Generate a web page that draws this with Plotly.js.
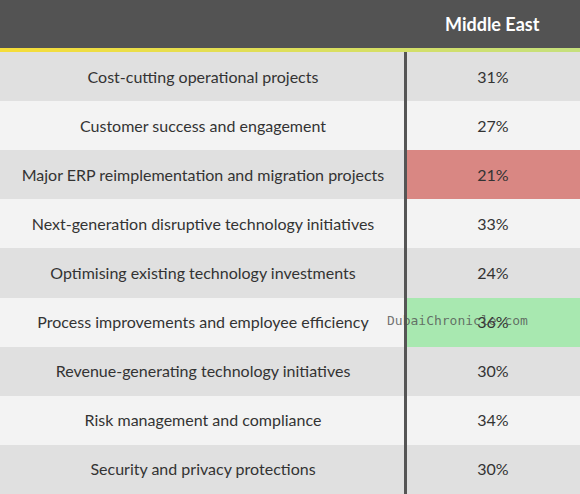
<!DOCTYPE html>
<html>
<head>
<meta charset="utf-8">
<script src="https://cdn.plot.ly/plotly-3.0.1.min.js"></script>
<style>html,body{margin:0;padding:0;background:#535353;}#chart{width:580px;height:494px;}</style>
</head>
<body>
<div id="chart"></div>
<script>
// ---- data ----
const columnHeader = "Middle East";
const categories = [
  "Cost-cutting operational projects",
  "Customer success and engagement",
  "Major ERP reimplementation and migration projects",
  "Next-generation disruptive technology initiatives",
  "Optimising existing technology investments",
  "Process improvements and employee efficiency",
  "Revenue-generating technology initiatives",
  "Risk management and compliance",
  "Security and privacy protections"
];
const middleEast = [31, 27, 21, 33, 24, 36, 30, 34, 30];
const watermark = "DubaiChronicle.com";

// ---- styling ----
const W = 580, H = 494, TOP = 52;
const plotH = H - TOP;
const splitX = 405.5;
const FONT = "Lato, 'Open Sans', sans-serif";
const C_DARKROW = "#e0e0e0", C_LIGHTROW = "#f3f3f3", C_LOW = "#d98783", C_HIGH = "#a8e8b0";

const minV = Math.min(...middleEast), maxV = Math.max(...middleEast);
const rows = categories.map((_, i) => i);
const z = [], text = [];
categories.forEach((cat, i) => {
  const base = i % 2 === 0 ? 0 : 1;
  const v = middleEast[i];
  const vc = v === minV ? 2 : (v === maxV ? 3 : base);
  z.push([base, vc]);
  text.push([cat, v + "%"]);
});

const trace = {
  type: "heatmap",
  x: [0, splitX, W],
  y: rows,
  z: z,
  text: text,
  texttemplate: "%{text}",
  textfont: {family: FONT, size: 16, color: "#333333"},
  zmin: 0, zmax: 3,
  colorscale: [[0, C_DARKROW], [1/3, C_LIGHTROW], [2/3, C_LOW], [1, C_HIGH]],
  showscale: false,
  hoverinfo: "skip"
};

// gradient line under header
const shapes = [];
const c0 = [245, 221, 58], c1 = [198, 224, 124];
const segs = 29;
for (let s = 0; s < segs; s++) {
  const t = s / (segs - 1);
  const col = `rgb(${c0.map((a, k) => Math.round(a + (c1[k] - a) * t)).join(",")})`;
  shapes.push({type: "rect", xref: "x", yref: "paper", x0: s * W / segs, x1: (s + 1) * W / segs + 0.5,
    y0: 1, y1: 1 + 4 / plotH, fillcolor: col, line: {width: 0}, layer: "above"});
}
shapes.push({type: "line", xref: "x", yref: "paper", x0: splitX, x1: splitX, y0: 0, y1: 1,
  line: {color: "#555555", width: 3}, layer: "above"});

const layout = {
  width: W, height: H,
  margin: {l: 0, r: 0, t: TOP, b: 0, pad: 0},
  paper_bgcolor: "#535353",
  plot_bgcolor: "#e0e0e0",
  showlegend: false,
  xaxis: {range: [0, W], visible: false, fixedrange: true},
  yaxis: {range: [categories.length - 0.5, -0.5], visible: false, fixedrange: true},
  shapes: shapes,
  annotations: [
    {text: "<b>" + columnHeader + "</b>", xref: "x", yref: "paper", x: (splitX + W) / 2, y: 1 + (TOP - 24) / plotH,
     showarrow: false, xanchor: "center", yanchor: "middle", font: {family: FONT, size: 18, color: "#ffffff"}},
    {text: watermark, xref: "x", yref: "paper", x: 457, y: 1 - (320 - TOP) / plotH,
     showarrow: false, xanchor: "center", yanchor: "middle", font: {family: "'DejaVu Sans Mono', monospace", size: 13, color: "rgba(80,80,80,0.8)"}}
  ]
};

Plotly.newPlot("chart", [trace], layout, {displayModeBar: false, staticPlot: true});
</script>
</body>
</html>
